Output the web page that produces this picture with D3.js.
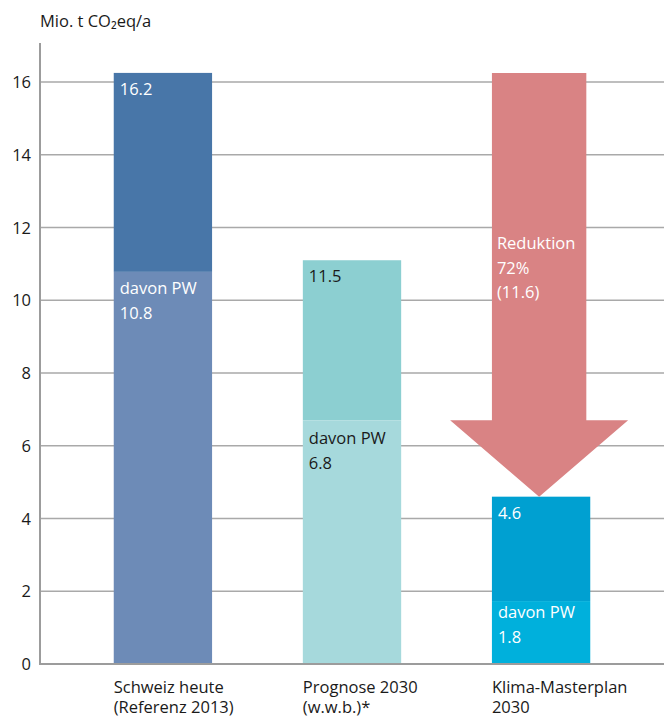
<!DOCTYPE html>
<html>
<head>
  <script src="https://d3js.org/d3.v7.min.js"></script>
  <style>
    body { margin: 0; background: white; }
    text { font-family: "Open Sans", Helvetica, sans-serif; }
  </style>
</head>
<body>
<svg id="mainSvg" width="664" height="716"></svg>
<script>
    // chart values
    var categories = ["Schweiz heute", "Prognose 2030", "Klima-Masterplan"];
    var catLine2 = ["(Referenz 2013)", "(w.w.b.)*", "2030"];
    var totals = [16.25, 11.1, 4.6];
    var pwValues = [10.78, 6.7, 1.73];
    var totalLabels = ["16.2", "11.5", "4.6"];
    var pwLabels = ["10.8", "6.8", "1.8"];
    var yTicks = [0, 2, 4, 6, 8, 10, 12, 14, 16];
    var arrowFrom = 16.25, arrowHeadBase = 6.7, arrowTo = 4.6;
    var arrowText = ["Reduktion", "72%", "(11.6)"];

    var topColors = ["#4876a8", "#8ccfd1", "#00a0d1"];
    var pwColors = ["#6d8bb7", "#a6d9dc", "#00b0dc"];
    var labelColors = ["white", "#1a1a1a", "white"];
    var fs = 16.5;

    var svg = d3.select("#mainSvg");

    var x = d3.scaleBand()
        .domain(categories)
        .range([40, 664])
        .paddingInner(0.48)
        .paddingOuter(0.39);

    var y = d3.scaleLinear()
        .domain([0, 16])
        .range([664, 82]);

    // gridlines
    svg.selectAll(".grid")
        .data(yTicks.filter(d => d > 0))
        .enter()
        .append("line")
        .attr("x1", 40)
        .attr("x2", 664)
        .attr("y1", d => y(d))
        .attr("y2", d => y(d))
        .attr("stroke", "#a9a9a9")
        .attr("stroke-width", 1.3);

    // tick labels
    svg.selectAll(".tick")
        .data(yTicks)
        .enter()
        .append("text")
        .attr("x", 31)
        .attr("y", d => y(d) + 6)
        .attr("text-anchor", "end")
        .attr("font-size", fs)
        .attr("fill", "#1a1a1a")
        .text(d => d);

    // unit title
    svg.append("text")
        .attr("x", 40)
        .attr("y", 27)
        .attr("font-size", fs)
        .attr("fill", "#1a1a1a")
        .text("Mio. t CO\u2082eq/a");

    // total bars
    svg.selectAll(".total")
        .data(categories)
        .enter()
        .append("rect")
        .attr("x", d => x(d))
        .attr("width", x.bandwidth())
        .attr("y", (d, i) => y(totals[i]))
        .attr("height", (d, i) => y(pwValues[i]) - y(totals[i]))
        .attr("fill", (d, i) => topColors[i]);

    // PW bars
    svg.selectAll(".pw")
        .data(categories)
        .enter()
        .append("rect")
        .attr("x", d => x(d))
        .attr("width", x.bandwidth())
        .attr("y", (d, i) => y(pwValues[i]))
        .attr("height", (d, i) => y(0) - y(pwValues[i]))
        .attr("fill", (d, i) => pwColors[i]);

    // axes lines
    svg.append("line")
        .attr("x1", 40).attr("x2", 40)
        .attr("y1", 43).attr("y2", y(0) + 1)
        .attr("stroke", "#9c9c9c").attr("stroke-width", 2);
    svg.append("line")
        .attr("x1", 40).attr("x2", 664)
        .attr("y1", y(0)).attr("y2", y(0))
        .attr("stroke", "#9c9c9c").attr("stroke-width", 2);

    // reduction arrow
    var c3 = categories[2];
    var sx0 = x(c3), sx1 = x(c3) + x.bandwidth() * 0.96;
    var cx = (sx0 + sx1) / 2, hw = 89;
    svg.append("path")
        .attr("d", d3.line()([
            [sx0, y(arrowFrom)], [sx1, y(arrowFrom)], [sx1, y(arrowHeadBase)],
            [cx + hw, y(arrowHeadBase)], [cx, y(arrowTo)], [cx - hw, y(arrowHeadBase)],
            [sx0, y(arrowHeadBase)]
        ]) + "Z")
        .attr("fill", "#d98384");

    svg.selectAll(".arrowText")
        .data(arrowText)
        .enter()
        .append("text")
        .attr("x", sx0 + 5)
        .attr("y", (d, i) => 249 + i * 24.5)
        .attr("font-size", fs)
        .attr("fill", "white")
        .text(d => d);

    // value labels
    svg.selectAll(".totalLabel")
        .data(categories)
        .enter()
        .append("text")
        .attr("x", d => x(d) + 6)
        .attr("y", (d, i) => y(totals[i]) + 22)
        .attr("font-size", fs)
        .attr("fill", (d, i) => labelColors[i])
        .text((d, i) => totalLabels[i]);

    var pwLabelY = [294, 444, 618];
    categories.forEach(function(c, i) {
        var t = svg.append("text")
            .attr("font-size", fs)
            .attr("fill", labelColors[i]);
        t.append("tspan").attr("x", x(c) + 6).attr("y", pwLabelY[i]).text("davon PW");
        t.append("tspan").attr("x", x(c) + 6).attr("y", pwLabelY[i] + 24.5).text(pwLabels[i]);
    });

    // category labels
    categories.forEach(function(c, i) {
        var t = svg.append("text")
            .attr("font-size", fs)
            .attr("fill", "#1a1a1a");
        t.append("tspan").attr("x", x(c)).attr("y", 693).text(c);
        t.append("tspan").attr("x", x(c)).attr("y", 713).text(catLine2[i]);
    });
</script>
</body>
</html>
